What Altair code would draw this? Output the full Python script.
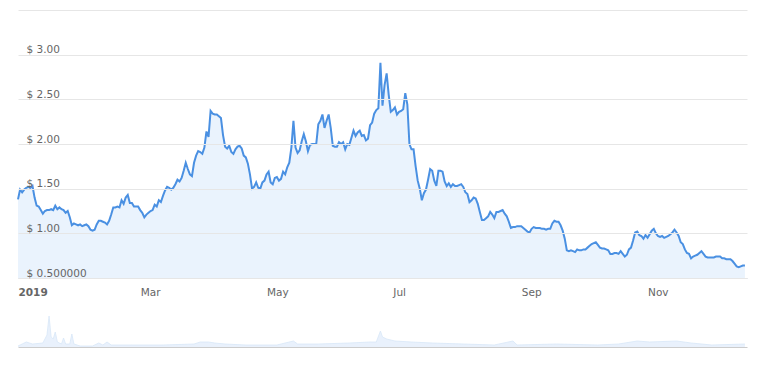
import altair as alt
import pandas as pd

start = "2019-01-01"

# daily closing price (USD), Jan 1 2019 onward
price = [
    1.38, 1.49, 1.46, 1.49, 1.51, 1.52, 1.51, 1.53, 1.40, 1.31,
    1.30, 1.26, 1.22, 1.25, 1.26, 1.26, 1.27, 1.26, 1.31, 1.27,
    1.29, 1.27, 1.26, 1.23, 1.25, 1.18, 1.09, 1.11, 1.10, 1.09,
    1.10, 1.08, 1.09, 1.10, 1.08, 1.04, 1.03, 1.04, 1.10, 1.14,
    1.14, 1.13, 1.12, 1.10, 1.14, 1.21, 1.29, 1.29, 1.30, 1.29,
    1.37, 1.33, 1.40, 1.43, 1.34, 1.34, 1.30, 1.30, 1.30, 1.26,
    1.23, 1.18, 1.21, 1.23, 1.25, 1.26, 1.32, 1.30, 1.37, 1.35,
    1.42, 1.48, 1.52, 1.51, 1.49, 1.51, 1.55, 1.60, 1.58, 1.62,
    1.70, 1.79, 1.72, 1.66, 1.64, 1.79, 1.87, 1.92, 1.91, 1.89,
    1.96, 2.14, 2.08, 2.37, 2.34, 2.33, 2.33, 2.31, 2.29, 2.10,
    1.97, 1.95, 1.98, 1.91, 1.89, 1.94, 1.97, 1.98, 1.95, 1.87,
    1.85, 1.78, 1.66, 1.50, 1.52, 1.57, 1.51, 1.50, 1.57, 1.59,
    1.66, 1.69, 1.57, 1.55, 1.62, 1.63, 1.59, 1.61, 1.69, 1.66,
    1.74, 1.79, 1.96, 2.26, 1.96, 1.90, 1.93, 2.03, 2.11, 2.03,
    1.92, 1.99, 2.00, 2.00, 2.00, 2.22, 2.26, 2.33, 2.18, 2.26,
    2.33, 2.18, 1.98, 1.97, 1.97, 2.02, 2.00, 2.02, 1.94, 2.00,
    1.99, 2.07, 2.15, 2.09, 2.13, 2.15, 2.09, 2.10, 2.04, 2.06,
    2.21, 2.24, 2.34, 2.38, 2.40, 2.91, 2.43, 2.66, 2.79, 2.55,
    2.36, 2.38, 2.41, 2.33, 2.36, 2.37, 2.39, 2.57, 2.44, 2.00,
    1.94, 1.94, 1.75, 1.59, 1.50, 1.37, 1.45, 1.49, 1.60, 1.72,
    1.70, 1.59, 1.53, 1.70, 1.70, 1.69, 1.58, 1.53, 1.56, 1.52,
    1.55, 1.53, 1.53, 1.54, 1.55, 1.52, 1.46, 1.44, 1.35, 1.37,
    1.40, 1.39, 1.33, 1.24, 1.15, 1.15, 1.17, 1.19, 1.24, 1.21,
    1.17, 1.24, 1.24, 1.25, 1.26, 1.22, 1.19, 1.13, 1.06, 1.07,
    1.07, 1.08, 1.08, 1.08, 1.06, 1.04, 1.02, 1.01, 1.05, 1.07,
    1.06, 1.06, 1.06, 1.05, 1.05, 1.04, 1.05, 1.05, 1.11, 1.14,
    1.13, 1.13, 1.09, 1.03, 0.94, 0.81, 0.80, 0.81, 0.80, 0.79,
    0.82, 0.81, 0.81, 0.82, 0.82, 0.84, 0.86, 0.88, 0.89, 0.90,
    0.87, 0.84, 0.83, 0.83, 0.82, 0.81, 0.77, 0.77, 0.78, 0.78,
    0.77, 0.80, 0.77, 0.74, 0.76, 0.82, 0.84, 0.92, 1.01, 1.02,
    0.98, 0.97, 0.94, 0.98, 0.95, 0.99, 1.03, 1.05, 1.00, 0.97,
    0.96, 0.97, 0.95, 0.96, 0.97, 0.99, 1.01, 1.04, 1.01, 0.97,
    0.90, 0.88, 0.82, 0.78, 0.77, 0.72, 0.74, 0.75, 0.76, 0.78,
    0.80, 0.77, 0.74, 0.73, 0.73, 0.73, 0.73, 0.74, 0.74, 0.74,
    0.72, 0.72, 0.71, 0.71, 0.71, 0.69, 0.66, 0.63, 0.62, 0.63,
    0.64, 0.64,
]

# navigator series (relative volume), day offsets from start
nav_days = [0, 2, 4, 7, 12, 14, 15, 16, 17, 18, 19, 21, 22, 23, 25, 26, 27, 30,
            36, 39, 41, 43, 45, 55, 70, 85, 88, 92, 95, 100, 110, 125, 133, 135,
            145, 160, 170, 173, 175, 176, 178, 182, 190, 200, 215, 230, 239, 241,
            260, 280, 290, 299, 305, 318, 325, 335, 351]
nav_volume = [1, 3, 5, 3, 4, 12, 31, 10, 8, 15, 5, 3, 9, 3, 3, 13, 3, 1,
              1, 4, 2, 5, 2, 2, 2, 3, 5, 5, 4, 3, 2, 2, 6, 3,
              3, 4, 5, 5, 16, 10, 8, 6, 5, 4, 3, 2, 6, 2,
              3, 2, 3, 6, 5, 6, 4, 2, 3]

tick_months = [1, 3, 5, 7, 9, 11]
y_ticks = [0.5, 1.0, 1.5, 2.0, 2.5, 3.0, 3.5]

df = pd.DataFrame({"date": pd.date_range(start, periods=len(price), freq="D"),
                   "price": price})
nav = pd.DataFrame({"date": pd.Timestamp(start) + pd.to_timedelta(nav_days, unit="D"),
                    "volume": nav_volume})

FONT = "DejaVu Sans"
x_domain = [alt.DateTime(year=2019, month=1, date=1),
            alt.DateTime(year=2019, month=12, date=19)]

x_main = alt.X(
    "date:T",
    scale=alt.Scale(domain=x_domain),
    axis=alt.Axis(
        values=[alt.DateTime(year=2019, month=m, date=1) for m in tick_months],
        labelExpr="month(datum.value) == 0 ? '2019' : timeFormat(datum.value, '%b')",
        labelAlign="left",
        labelBaseline="top",
        labelFontWeight={"condition": {"test": "month(datum.value) == 0", "value": "bold"},
                         "value": "normal"},
        labelColor="#666666",
        labelFont=FONT,
        labelFontSize=10.5,
        labelPadding=9,
        grid=False,
        ticks=False,
        domainColor="#ccd6eb",
        title=None,
    ),
)

y_main = alt.Y(
    "price:Q",
    scale=alt.Scale(domain=[0.5, 3.5], nice=False, zero=False),
    axis=alt.Axis(
        values=y_ticks,
        labelExpr="datum.value >= 3.5 ? '' : (datum.value == 0.5 ? '$ 0.500000' : '$ ' + format(datum.value, '.2f'))",
        labelAlign="left",
        labelBaseline="alphabetic",
        labelPadding=-8,
        labelOffset=-2,
        labelColor="#666666",
        labelFont=FONT,
        labelFontSize=10.5,
        ticks=False,
        domain=False,
        gridColor="#e6e6e6",
        zindex=1,
        title=None,
    ),
)

base = alt.Chart(df).encode(x=x_main)
area = base.mark_area(color="#d9e9fb", opacity=0.55).encode(y=y_main, y2=alt.datum(0.5))
line = base.mark_line(color="#4a90e2", strokeWidth=2).encode(y=y_main)
main = alt.layer(area, line).properties(width=729, height=268)

navigator = alt.Chart(nav).mark_area(
    color="#e3eefb", opacity=0.8, line={"color": "#d8e7f8", "strokeWidth": 0.8}
).encode(
    x=alt.X("date:T", scale=alt.Scale(domain=x_domain),
            axis=alt.Axis(labels=False, ticks=False, grid=False,
                          domainColor="#cccccc", title=None)),
    y=alt.Y("volume:Q", scale=alt.Scale(domain=[0, 47], nice=False), axis=None),
).properties(width=729, height=47)

chart = alt.vconcat(main, navigator, spacing=2).properties(
    padding={"left": 6, "top": 2, "right": 5, "bottom": 5},
    background="white",
).configure_view(stroke=None)

chart.save("out.html", embed_options={"renderer": "svg", "actions": False})
